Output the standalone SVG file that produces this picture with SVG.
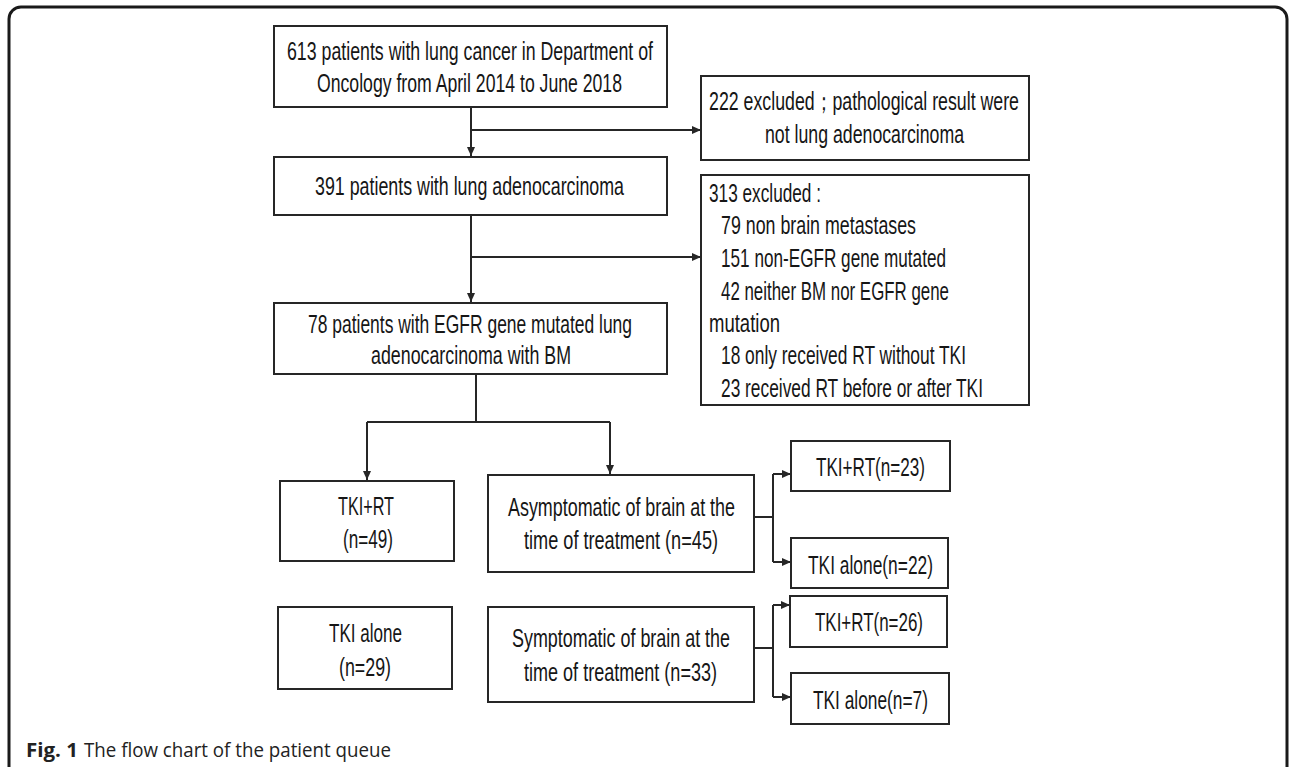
<svg xmlns="http://www.w3.org/2000/svg" width="1292" height="767" viewBox="0 0 1292 767">
<style>
.box{fill:#fff;stroke:#262626;stroke-width:2}
.t{font-family:"Liberation Sans",Arial,sans-serif;font-size:25px;fill:#161616}
.ln{fill:none;stroke:#262626;stroke-width:2}
.cap{font-family:"Open Sans","Noto Sans",sans-serif;font-size:20px;fill:#222}
</style>
<defs>
<marker id="ah" markerUnits="userSpaceOnUse" markerWidth="10" markerHeight="10" refX="9" refY="4" orient="auto">
<path d="M0,0 L9,4 L0,8 z" fill="#262626"/>
</marker>
</defs>
<rect x="9" y="7" width="1278" height="800" rx="12" fill="#fff" stroke="#1a1a1a" stroke-width="3"/>

<g id="connectors">
<path class="ln" d="M471,107 V156" marker-end="url(#ah)"/>
<path class="ln" d="M471,130 H701" marker-end="url(#ah)"/>
<path class="ln" d="M471,215 V302" marker-end="url(#ah)"/>
<path class="ln" d="M471,257 H701" marker-end="url(#ah)"/>
<path class="ln" d="M476,374 V422 M367,422 H610"/>
<path class="ln" d="M367,422 V480" marker-end="url(#ah)"/>
<path class="ln" d="M610,422 V474" marker-end="url(#ah)"/>
<path class="ln" d="M754,517 H773 M773,474 V562"/>
<path class="ln" d="M773,474 H791" marker-end="url(#ah)"/>
<path class="ln" d="M773,562 H791" marker-end="url(#ah)"/>
<path class="ln" d="M754,648 H773 M773,605 V697"/>
<path class="ln" d="M773,605 H790" marker-end="url(#ah)"/>
<path class="ln" d="M773,697 H791" marker-end="url(#ah)"/>
</g>

<g id="n613">
<rect class="box" x="274" y="26" width="393" height="81"/>
<text class="t" x="287" y="60" textLength="366" lengthAdjust="spacingAndGlyphs">613 patients with lung cancer in Department of</text>
<text class="t" x="317" y="92" textLength="305" lengthAdjust="spacingAndGlyphs">Oncology from April 2014 to June 2018</text>
</g>

<g id="n222">
<rect class="box" x="701" y="76" width="328" height="84"/>
<text class="t" x="709" y="110" textLength="310" lengthAdjust="spacingAndGlyphs">222 excluded；pathological result were</text>
<text class="t" x="765" y="143" textLength="199" lengthAdjust="spacingAndGlyphs">not lung adenocarcinoma</text>
</g>

<g id="n391">
<rect class="box" x="274" y="157" width="393" height="58"/>
<text class="t" x="315" y="195" textLength="309" lengthAdjust="spacingAndGlyphs">391 patients with lung adenocarcinoma</text>
</g>

<g id="n313">
<rect class="box" x="701" y="175" width="328" height="230"/>
<text class="t" x="709" y="202" textLength="112" lengthAdjust="spacingAndGlyphs">313 excluded :</text>
<text class="t" x="721" y="234" textLength="195" lengthAdjust="spacingAndGlyphs">79 non brain metastases</text>
<text class="t" x="721" y="267" textLength="225" lengthAdjust="spacingAndGlyphs">151 non-EGFR gene mutated</text>
<text class="t" x="721" y="300" textLength="228" lengthAdjust="spacingAndGlyphs">42 neither BM nor EGFR gene</text>
<text class="t" x="709" y="332" textLength="71" lengthAdjust="spacingAndGlyphs">mutation</text>
<text class="t" x="721" y="364" textLength="245" lengthAdjust="spacingAndGlyphs">18 only received RT without TKI</text>
<text class="t" x="721" y="397" textLength="262" lengthAdjust="spacingAndGlyphs">23 received RT before or after TKI</text>
</g>

<g id="n78">
<rect class="box" x="274" y="303" width="393" height="71"/>
<text class="t" x="308" y="333" textLength="324" lengthAdjust="spacingAndGlyphs">78 patients with EGFR gene mutated lung</text>
<text class="t" x="371" y="364" textLength="200" lengthAdjust="spacingAndGlyphs">adenocarcinoma with BM</text>
</g>

<g id="nTKIRT">
<rect class="box" x="280" y="481" width="174" height="80"/>
<text class="t" x="338" y="515" textLength="56" lengthAdjust="spacingAndGlyphs">TKI+RT</text>
<text class="t" x="343" y="548" textLength="50" lengthAdjust="spacingAndGlyphs">(n=49)</text>
</g>

<g id="nAsym">
<rect class="box" x="488" y="475" width="266" height="97"/>
<text class="t" x="508" y="516" textLength="227" lengthAdjust="spacingAndGlyphs">Asymptomatic of brain at the</text>
<text class="t" x="524" y="549" textLength="194" lengthAdjust="spacingAndGlyphs">time of treatment (n=45)</text>
</g>

<g id="nTKIalone">
<rect class="box" x="278" y="607" width="174" height="82"/>
<text class="t" x="329" y="642" textLength="73" lengthAdjust="spacingAndGlyphs">TKI alone</text>
<text class="t" x="339" y="676" textLength="52" lengthAdjust="spacingAndGlyphs">(n=29)</text>
</g>

<g id="nSym">
<rect class="box" x="488" y="607" width="266" height="95"/>
<text class="t" x="512" y="647" textLength="218" lengthAdjust="spacingAndGlyphs">Symptomatic of brain at the</text>
<text class="t" x="524" y="681" textLength="193" lengthAdjust="spacingAndGlyphs">time of treatment (n=33)</text>
</g>

<g id="n23">
<rect class="box" x="791" y="441" width="159" height="50"/>
<text class="t" x="816" y="476" textLength="109" lengthAdjust="spacingAndGlyphs">TKI+RT(n=23)</text>
</g>

<g id="n22">
<rect class="box" x="791" y="538" width="157" height="50"/>
<text class="t" x="808" y="574" textLength="125" lengthAdjust="spacingAndGlyphs">TKI alone(n=22)</text>
</g>

<g id="n26">
<rect class="box" x="790" y="596" width="157" height="51"/>
<text class="t" x="815" y="631" textLength="108" lengthAdjust="spacingAndGlyphs">TKI+RT(n=26)</text>
</g>

<g id="n7">
<rect class="box" x="791" y="673" width="158" height="51"/>
<text class="t" x="813" y="709" textLength="115" lengthAdjust="spacingAndGlyphs">TKI alone(n=7)</text>
</g>

<g id="caption">
<text class="cap" x="26" y="757" font-weight="bold" textLength="52" lengthAdjust="spacingAndGlyphs">Fig. 1</text>
<text class="cap" x="84" y="757" textLength="307" lengthAdjust="spacingAndGlyphs">The flow chart of the patient queue</text>
</g>
</svg>
